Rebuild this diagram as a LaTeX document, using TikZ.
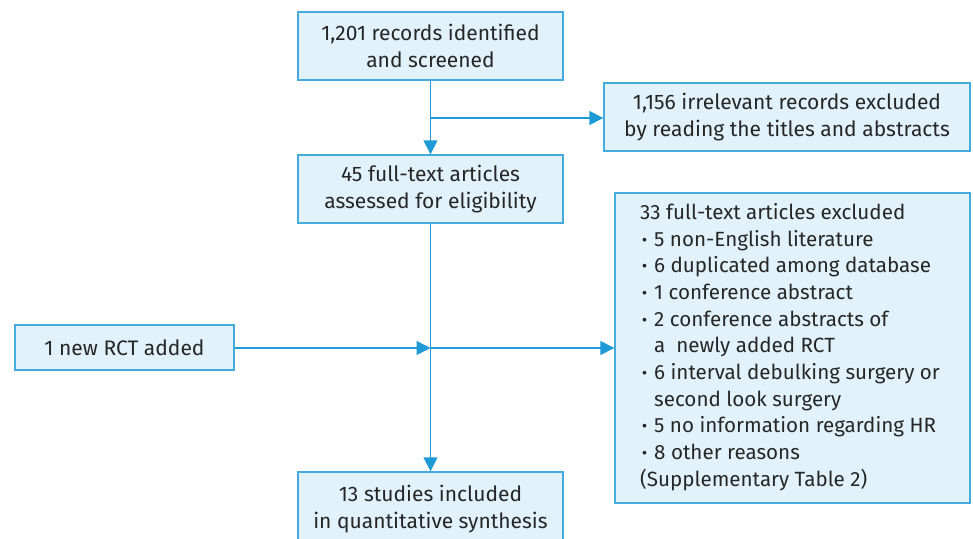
\documentclass[tikz,border=0pt]{standalone}
\usepackage{fontspec}
\setmainfont{Fira Sans}
\usetikzlibrary{arrows.meta}
\definecolor{boxfill}{HTML}{E1F2FA}
\definecolor{boxline}{HTML}{45AADC}
\definecolor{arrowc}{HTML}{1E9BD7}
\definecolor{txt}{HTML}{262626}
\newcommand{\bul}{\makebox[14pt][l]{\hspace*{2pt}\textbf{·}}}
\newcommand{\ind}{\hspace*{14pt}}
\begin{document}
\begin{tikzpicture}[x=1pt,y=-1pt,
  flowbox/.style={draw=boxline, fill=boxfill, line width=1.4pt, text=txt,
    font=\fontsize{21}{26.7}\selectfont, align=center, inner sep=0pt},
  plaintext/.style={text=txt, font=\fontsize{20.6}{26.7}\selectfont, align=left, inner sep=0pt},
  conn/.style={draw=arrowc, line width=1.4pt},
  arr/.style={conn, -{Triangle[length=14pt,width=14pt]}}]
\useasboundingbox (0,0) rectangle (973,538);
\node[flowbox, minimum width=265pt, minimum height=68pt] (b1) at (430.5,46)
  {1,201 records identified\\and screened};
\node[flowbox, minimum width=366pt, minimum height=68pt] (r1) at (787,117)
  {1,156 irrelevant records excluded\\by reading the titles and abstracts};
\node[flowbox, minimum width=265pt, minimum height=68pt] (b2) at (430.5,189)
  {45 full-text articles\\assessed for eligibility};
\node[flowbox, minimum width=355pt, minimum height=310pt] (r2) at (792.5,348) {};
\node[plaintext, anchor=west] (r2t) at (640,347)
  {33 full-text articles excluded\\
   \bul 5 non-English literature\\
   \bul 6 duplicated among database\\
   \bul 1 conference abstract\\
   \bul 2 conference abstracts of\\
   \ind a\ \ newly added RCT\\
   \bul 6 interval debulking surgery or\\
   \ind second look surgery\\
   \bul 5 no information regarding HR\\
   \bul 8 other reasons\\
   (Supplementary Table 2)};
\node[flowbox, minimum width=219pt, minimum height=45pt] (l1) at (124.5,347.5)
  {1 new RCT added};
\node[flowbox, minimum width=265pt, minimum height=74pt] (b3) at (430.5,509)
  {13 studies included\\in quantitative synthesis};
\coordinate (j1) at (430.5,118);
\coordinate (j2) at (430.5,348);
\draw[arr] (b1) -- (b2);
\draw[arr] (j1) -- (r1.west |- j1);
\draw[arr] (b2) -- (b3);
\draw[arr] (l1.east |- j2) -- (j2);
\draw[arr] (j2) -- (r2.west |- j2);
\end{tikzpicture}
\end{document}
